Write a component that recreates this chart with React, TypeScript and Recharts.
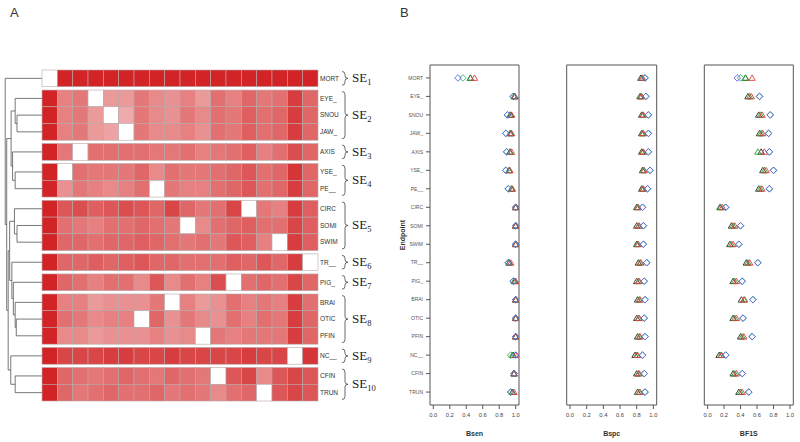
import React from 'react';
import { ScatterChart, Scatter, XAxis, YAxis, ReferenceLine, ReferenceArea } from 'recharts';

// ---------- data ----------
const ENDPOINTS = ['MORT', 'EYE_', 'SNOU', 'JAW_', 'AXIS', 'YSE_', 'PE__', 'CIRC', 'SOMI', 'SWIM', 'TR__', 'PIG_', 'BRAI', 'OTIC', 'PFIN', 'NC__', 'CFIN', 'TRUN'];
// clustered column order of the heatmap
const COLUMNS = ['MORT', 'YSE_', 'AXIS', 'EYE_', 'SNOU', 'JAW_', 'OTIC', 'PE__', 'BRAI', 'SOMI', 'PFIN', 'CFIN', 'PIG_', 'CIRC', 'TRUN', 'SWIM', 'NC__', 'TR__'];
// SE group of each row
const SE_OF_ROW = [1, 2, 2, 2, 3, 4, 4, 5, 5, 5, 6, 7, 8, 8, 8, 9, 10, 10];

// heatmap intensity (0 = light pink, 1 = dark red, null = diagonal)
const HEAT = [
  [null, 1, 1, 1, 1, 1, 1, 1, 1, 1, 1, 1, 1, 1, 1, 1, 1, 1],
  [1, .45, .5, null, .3, .3, .5, .4, .35, .45, .3, .55, .45, .6, .5, .55, .85, .6],
  [1, .45, .5, .3, null, .2, .5, .4, .35, .5, .4, .55, .5, .65, .55, .6, .85, .6],
  [1, .45, .5, .3, .25, null, .5, .4, .4, .45, .35, .55, .5, .65, .55, .6, .85, .6],
  [1, .5, null, .55, .55, .55, .55, .5, .5, .55, .45, .5, .55, .65, .45, .55, .75, .6],
  [1, null, .55, .5, .5, .5, .6, .4, .55, .5, .5, .55, .6, .7, .55, .6, .9, .6],
  [1, .35, .5, .45, .4, .45, .55, null, .5, .45, .45, .55, .6, .7, .55, .6, .85, .6],
  [1, .7, .75, .65, .7, .75, .7, .6, .8, .6, .5, .55, .8, null, .5, .45, .85, .65],
  [1, .55, .5, .45, .55, .55, .6, .55, .5, null, .4, .55, .6, .65, .55, .55, .8, .65],
  [1, .6, .6, .55, .6, .6, .65, .6, .55, .5, .55, .5, .7, .65, .45, null, .85, .65],
  [1, .6, .6, .65, .6, .65, .7, .6, .6, .55, .55, .55, .65, .6, .7, .6, .85, null],
  [1, .6, .55, .45, .55, .55, .4, .7, .4, .55, .45, .75, null, .55, .6, .55, .8, .6],
  [1, .45, .45, .3, .35, .35, .35, .5, null, .45, .3, .35, .55, .45, .5, .45, .85, .55],
  [1, .55, .5, .4, .45, .45, null, .6, .35, .5, .4, .35, .55, .45, .55, .5, .85, .6],
  [1, .4, .4, .3, .35, .35, .35, .45, .35, .4, null, .5, .45, .5, .5, .5, .85, .6],
  [1, .8, .8, .8, .85, .85, .8, .8, .85, .8, .8, .8, .8, .85, .8, .8, null, .9],
  [1, .6, .55, .5, .55, .6, .55, .5, .6, .55, .5, null, .7, .8, .4, .7, .8, .7],
  [1, .6, .5, .55, .6, .55, .55, .6, .5, .55, .5, .4, .55, .6, null, .7, .8, .7],
];

// dendrogram merges: [left, right, height]; numbers refer to earlier merges
const DENDRO_MERGES: [string | number, string | number, number][] = [
  ['SNOU', 'JAW_', 0.68],
  ['EYE_', 0, 0.73],
  ['YSE_', 'PE__', 0.73],
  ['AXIS', 2, 0.8],
  [1, 3, 0.84],
  ['SOMI', 'SWIM', 0.68],
  ['CIRC', 5, 0.75],
  ['OTIC', 'PFIN', 0.7],
  ['BRAI', 7, 0.73],
  ['PIG_', 8, 0.78],
  ['TR__', 9, 0.82],
  ['CFIN', 'TRUN', 0.73],
  ['NC__', 11, 0.85],
  [6, 10, 0.88],
  [13, 12, 0.92],
  [4, 14, 0.96],
  ['MORT', 15, 1.0],
];

// panel B values, one entry per endpoint
const BSEN_TRI_BLACK = [0.45, 0.99, 0.94, 0.94, 0.93, 0.92, 0.95, 1, 1, 1, 0.92, 0.99, 1, 1, 1, 0.97, 0.98, 0.96];
const BSEN_TRI_GREEN = [0.45, 0.98, 0.93, 0.93, 0.93, 0.92, 0.95, 1, 1, 1, 0.92, 0.98, 1, 1, 1, 0.96, 0.98, 0.96];
const BSEN_TRI_RED = [0.5, 0.99, 0.95, 0.95, 0.95, 0.93, 0.96, 1, 1, 1, 0.94, 1, 1, 1, 1, 1, 0.98, 0.98];
const BSEN_DIA_GREEN = [0.36, 0.97, 0.9, 0.88, 0.89, 0.88, 0.91, 1, 1, 1, 0.91, 0.97, 1, 1, 1, 0.94, 0.98, 0.94];
const BSEN_DIA_BLUE = [0.3, 0.97, 0.9, 0.88, 0.89, 0.88, 0.91, 1, 1, 1, 0.91, 0.97, 1, 1, 1, 1, 0.98, 0.94];

const BSPC_TRI_BLACK = [0.85, 0.84, 0.86, 0.86, 0.86, 0.87, 0.86, 0.8, 0.8, 0.8, 0.82, 0.8, 0.81, 0.8, 0.81, 0.78, 0.8, 0.81];
const BSPC_TRI_GREEN = [0.86, 0.85, 0.87, 0.87, 0.87, 0.88, 0.87, 0.81, 0.82, 0.81, 0.84, 0.82, 0.83, 0.82, 0.83, 0.8, 0.82, 0.83];
const BSPC_TRI_RED = [0.87, 0.86, 0.88, 0.88, 0.88, 0.89, 0.88, 0.82, 0.83, 0.82, 0.85, 0.83, 0.84, 0.83, 0.84, 0.81, 0.83, 0.84];
const BSPC_DIA_GREEN = [0.9, 0.91, 0.94, 0.94, 0.94, 0.96, 0.93, 0.87, 0.88, 0.88, 0.92, 0.89, 0.9, 0.89, 0.9, 0.87, 0.89, 0.9];
const BSPC_DIA_BLUE = [0.9, 0.91, 0.94, 0.94, 0.94, 0.96, 0.93, 0.87, 0.88, 0.88, 0.92, 0.89, 0.9, 0.89, 0.9, 0.87, 0.89, 0.9];

const BF1S_TRI_BLACK = [0.46, 0.49, 0.62, 0.63, 0.65, 0.67, 0.62, 0.15, 0.29, 0.27, 0.47, 0.31, 0.41, 0.31, 0.4, 0.14, 0.31, 0.38];
const BF1S_TRI_GREEN = [0.46, 0.51, 0.64, 0.65, 0.61, 0.69, 0.64, 0.16, 0.31, 0.29, 0.49, 0.33, 0.45, 0.33, 0.42, 0.16, 0.33, 0.4];
const BF1S_TRI_RED = [0.54, 0.53, 0.66, 0.67, 0.69, 0.71, 0.66, 0.18, 0.33, 0.31, 0.51, 0.35, 0.44, 0.35, 0.44, 0.17, 0.35, 0.42];
const BF1S_DIA_GREEN = [0.4, 0.63, 0.76, 0.74, 0.75, 0.8, 0.75, 0.22, 0.4, 0.38, 0.61, 0.42, 0.55, 0.43, 0.54, 0.22, 0.42, 0.5];
const BF1S_DIA_BLUE = [0.36, 0.63, 0.76, 0.74, 0.75, 0.8, 0.75, 0.22, 0.4, 0.38, 0.61, 0.42, 0.55, 0.43, 0.54, 0.22, 0.42, 0.5];

const X_TICKS = [0, 0.2, 0.4, 0.6, 0.8, 1.0];

// ---------- layout ----------
const GAP = 0.2; // gap between SE blocks, in rows
const ROW_Y = ENDPOINTS.map((_, i) => i + (SE_OF_ROW[i] - 1) * GAP);
const HM_W = 400;
const HM_H = 442;
const HM_MARGIN = { top: 70, right: 52, bottom: 41, left: 3.7 };
const HM_YAXIS_W = 30;
const X_DOMAIN: [number, number] = [-3, 17.5];
const Y_DOMAIN: [number, number] = [-0.5, 17.5 + 9 * GAP];
const COL_W = (HM_W - HM_MARGIN.left - HM_MARGIN.right - HM_YAXIS_W) / (X_DOMAIN[1] - X_DOMAIN[0]);
const ROW_H = (HM_H - HM_MARGIN.top - HM_MARGIN.bottom) / (Y_DOMAIN[1] - Y_DOMAIN[0]);
const DENDRO_SPAN = 2.4;

const LIGHT = [246, 204, 204];
const DARK = [210, 36, 38];
const cellColor = (v: number | null) => {
  if (v == null) return '#ffffff';
  const c = LIGHT.map((l, i) => Math.round(l + (DARK[i] - l) * v));
  return `rgb(${c[0]},${c[1]},${c[2]})`;
};

const heatData = HEAT.flatMap((row, r) => row.map((v, c) => ({ x: c, y: ROW_Y[r], v, col: COLUMNS[c] })));

const hx = (h: number) => -0.5 - h * DENDRO_SPAN;
const dendroSegments = (() => {
  const nodes: { y: number; h: number }[] = [];
  const segs: number[][] = [];
  const pos = (ref: string | number) =>
    typeof ref === 'string' ? { y: ROW_Y[ENDPOINTS.indexOf(ref)], h: 0 } : nodes[ref];
  DENDRO_MERGES.forEach(([a, b, h]) => {
    const A = pos(a);
    const B = pos(b);
    segs.push([hx(A.h), A.y, hx(h), A.y]);
    segs.push([hx(B.h), B.y, hx(h), B.y]);
    segs.push([hx(h), A.y, hx(h), B.y]);
    nodes.push({ y: (A.y + B.y) / 2, h });
  });
  return segs;
})();

const seGroups = Array.from({ length: 10 }, (_, g) => {
  const rows = ROW_Y.filter((_, i) => SE_OF_ROW[i] === g + 1);
  return { x: X_DOMAIN[1], y: rows.reduce((s, v) => s + v, 0) / rows.length, n: rows.length, label: g + 1 };
});

const rowName = (v: number) => {
  const i = ROW_Y.findIndex((y) => Math.abs(y - v) < 1e-6);
  return i >= 0 ? ENDPOINTS[i] : '';
};

const Bracket = (p: any) => {
  const { cx, cy, payload } = p;
  const half = (payload.n * ROW_H) / 2 - 1.5;
  const top = cy - half;
  const bottom = cy + half;
  const x0 = cx + 27;
  const d = `M${x0 - 3},${top} Q${x0},${top} ${x0},${top + 3} L${x0},${cy - 2.5} Q${x0},${cy} ${x0 + 3},${cy} Q${x0},${cy} ${x0},${cy + 2.5} L${x0},${bottom - 3} Q${x0},${bottom} ${x0 - 3},${bottom}`;
  return (
    <g>
      <path d={d} fill="none" stroke="#444" strokeWidth={0.8} />
      <text x={x0 + 7} y={cy + 4} fontFamily="Liberation Serif, serif" fontSize={13} fill="#222">
        SE<tspan fontSize={8.5} dy={3}>{payload.label}</tspan>
      </text>
    </g>
  );
};

const Heatmap = () => (
  <ScatterChart width={HM_W} height={HM_H} margin={HM_MARGIN}>
    <XAxis dataKey="x" type="number" domain={X_DOMAIN} hide />
    <YAxis
      dataKey="y"
      type="number"
      orientation="right"
      width={HM_YAXIS_W}
      domain={Y_DOMAIN}
      reversed
      ticks={ROW_Y}
      interval={0}
      tickFormatter={rowName}
      axisLine={false}
      tickLine={false}
      tickSize={0}
      tickMargin={2}
      tick={{ fontSize: 6.5, fill: '#333', fontFamily: 'Liberation Sans, Arial, sans-serif' }}
    />
    <Scatter
      data={heatData}
      isAnimationActive={false}
      shape={(p: any) => (
        <rect
          x={p.cx - COL_W / 2}
          y={p.cy - ROW_H / 2}
          width={COL_W}
          height={ROW_H}
          fill={cellColor(p.payload.v)}
          stroke="#b8a6a6"
          strokeWidth={0.6}
        />
      )}
    />
    {dendroSegments.map((s, i) => (
      <ReferenceLine
        key={i}
        segment={[{ x: s[0], y: s[1] }, { x: s[2], y: s[3] }]}
        stroke="#555"
        strokeWidth={0.8}
        ifOverflow="visible"
      />
    ))}
    <Scatter data={seGroups} isAnimationActive={false} shape={Bracket} />
  </ScatterChart>
);

// ---------- panel B ----------
const triangle = (color: string) => (p: any) => {
  const { cx, cy } = p;
  return (
    <path d={`M${cx},${cy - 3} L${cx + 3.2},${cy + 2.4} L${cx - 3.2},${cy + 2.4} Z`} fill="none" stroke={color} strokeWidth={0.9} />
  );
};
const diamond = (color: string) => (p: any) => {
  const { cx, cy } = p;
  return (
    <path d={`M${cx},${cy - 3.3} L${cx + 3.3},${cy} L${cx},${cy + 3.3} L${cx - 3.3},${cy} Z`} fill="none" stroke={color} strokeWidth={0.9} />
  );
};

const SERIES_STYLE = [
  { shape: triangle('#2a2a2a') },
  { shape: triangle('#2ca02c') },
  { shape: triangle('#e8383d') },
  { shape: diamond('#2fb35a') },
  { shape: diamond('#5a62f0') },
];

const toPoints = (vals: number[]) => vals.map((x, i) => ({ x, y: i }));

const PANELS = [
  { title: 'Bsen', series: [BSEN_TRI_BLACK, BSEN_TRI_GREEN, BSEN_TRI_RED, BSEN_DIA_GREEN, BSEN_DIA_BLUE], left: 390, width: 135, ml: 10, mr: 6, yLabels: true },
  { title: 'Bspc', series: [BSPC_TRI_BLACK, BSPC_TRI_GREEN, BSPC_TRI_RED, BSPC_DIA_GREEN, BSPC_DIA_BLUE], left: 560, width: 100, ml: 6.7, mr: 3.3, yLabels: false },
  { title: 'BF1S', series: [BF1S_TRI_BLACK, BF1S_TRI_GREEN, BF1S_TRI_RED, BF1S_DIA_GREEN, BF1S_DIA_BLUE], left: 698, width: 100, ml: 6.3, mr: 4.7, yLabels: false },
];

const B_X_DOMAIN: [number, number] = [-0.04, 1.04];
const B_Y_DOMAIN: [number, number] = [-0.7, 17.7];
const SANS = 'Liberation Sans, Arial, sans-serif';

const MetricPanel = ({ panel }: { panel: (typeof PANELS)[number] }) => (
  <ScatterChart width={panel.width} height={442} margin={{ top: 65, right: panel.mr, bottom: 4, left: panel.ml }}>
    <XAxis
      dataKey="x"
      type="number"
      domain={B_X_DOMAIN}
      allowDataOverflow
      ticks={X_TICKS}
      interval={0}
      tickFormatter={(v: number) => v.toFixed(1)}
      axisLine={false}
      tickSize={4}
      tickMargin={4}
      tickLine={{ stroke: '#555' }}
      height={33}
      tick={{ fontSize: 5.8, fill: '#444', fontFamily: SANS }}
      label={{ value: panel.title, position: 'insideBottom', offset: 2, style: { fontSize: 7, fontWeight: 'bold', fill: '#333', fontFamily: SANS } }}
    />
    <YAxis
      dataKey="y"
      type="number"
      domain={B_Y_DOMAIN}
      allowDataOverflow
      reversed
      hide={!panel.yLabels}
      width={panel.yLabels ? 30 : 0}
      ticks={ENDPOINTS.map((_, i) => i)}
      interval={0}
      tickFormatter={(v: number) => ENDPOINTS[v] ?? ''}
      axisLine={false}
      tickSize={4}
      tickMargin={3}
      tickLine={{ stroke: '#555' }}
      tick={{ fontSize: 5, fill: '#555', fontFamily: SANS }}
      label={panel.yLabels ? { value: 'Endpoint', angle: -90, position: 'insideLeft', offset: 3, style: { textAnchor: 'middle', fontSize: 7, fontWeight: 'bold', fill: '#333', fontFamily: SANS } } : undefined}
    />
    <ReferenceArea x1={B_X_DOMAIN[0]} x2={B_X_DOMAIN[1]} y1={B_Y_DOMAIN[0]} y2={B_Y_DOMAIN[1]} fill="none" stroke="#555" strokeWidth={1} ifOverflow="visible" />
    {panel.series.map((vals, i) => (
      <Scatter key={i} data={toPoints(vals)} isAnimationActive={false} shape={SERIES_STYLE[i].shape} />
    ))}
  </ScatterChart>
);

export default function App() {
  return (
    <div style={{ position: 'relative', width: 800, height: 442, background: '#fff', fontFamily: SANS }}>
      <style>{'body{margin:0}'}</style>
      <div style={{ position: 'absolute', left: 10, top: 5, fontSize: 13, color: '#333' }}>A</div>
      <div style={{ position: 'absolute', left: 400, top: 5, fontSize: 13, color: '#333' }}>B</div>
      <div style={{ position: 'absolute', left: 0, top: 0 }}>
        <Heatmap />
      </div>
      {PANELS.map((p) => (
        <div key={p.title} style={{ position: 'absolute', left: p.left, top: 0 }}>
          <MetricPanel panel={p} />
        </div>
      ))}
    </div>
  );
}
